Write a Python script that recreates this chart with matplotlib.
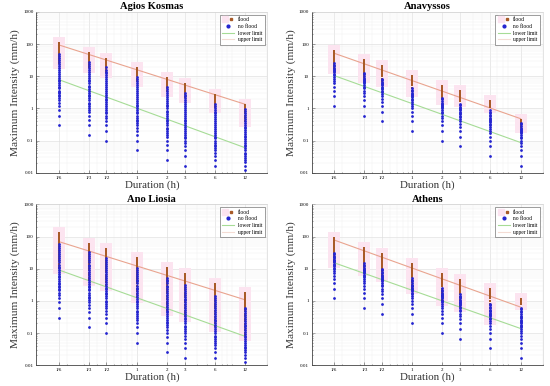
import matplotlib
matplotlib.use("Agg")
import matplotlib.pyplot as plt
from matplotlib.lines import Line2D
from matplotlib.legend_handler import HandlerTuple

plt.rcParams.update({"font.family": "Liberation Serif", "axes.linewidth": 0.6})

# ---- data ----
DUR = [1/6, 1/3, 1/2, 1, 2, 3, 6, 12]
DUR_LABELS = ["1/6", "1/3", "1/2", "1", "2", "3", "6", "12"]
Y_TICKS = [0.01, 0.1, 1, 10, 100, 1000]
Y_LABELS = ["0.01", "0.1", "1", "10", "100", "1000"]
TITLES = ["Agios Kosmas", "Anavyssos", "Ano Liosia", "Athens"]

# Agios Kosmas
AK_FLOOD = [
    [105, 100, 95, 90, 84, 78, 72, 66, 60, 55, 50, 45, 40, 35, 30, 26],
    [52, 49, 46, 43, 40, 36, 32, 28, 25, 22, 19],
    [34, 32, 30, 28, 26, 24, 21, 18, 16, 14],
    [17.5, 16.5, 15.5, 14.5, 13, 11.5, 10, 8.5, 7],
    [8.9, 8.4, 7.9, 7.3, 6.6, 5.8, 5.0, 4.2, 3.5],
    [5.8, 5.5, 5.2, 4.8, 4.3, 3.8, 3.3, 2.8, 2.3],
    [2.6, 2.45, 2.3, 2.1, 1.9, 1.7, 1.5, 1.3, 1.1],
    [1.3, 1.2, 1.1, 1.0, 0.9, 0.8, 0.7, 0.6, 0.5, 0.4],
]
AK_NOFLOOD = [
    [0.3, 0.6, 0.9, 1.2, 1.5, 1.8, 2.1, 2.4, 2.7, 3.0, 3.3, 3.6, 4.2, 4.8, 5.4, 6.0, 6.9, 7.8, 9.0, 10.2, 11.7, 13.5, 15.6, 18, 21, 24, 28, 32, 37, 43, 50],
    [0.15, 0.3, 0.45, 0.6, 0.75, 0.9, 1.05, 1.2, 1.35, 1.5, 1.8, 2.1, 2.4, 2.7, 3.0, 3.45, 3.9, 4.5, 5.1, 6.0, 6.9, 7.8, 9.0, 10.5, 12, 13.5, 15.6, 18, 21, 24, 28],
    [0.1, 0.2, 0.3, 0.4, 0.5, 0.6, 0.7, 0.8, 0.9, 1.0, 1.2, 1.4, 1.6, 1.8, 2.0, 2.3, 2.6, 3.0, 3.4, 3.9, 4.5, 5.2, 6.0, 7.0, 8.0, 9.2, 10.6, 12.2, 14, 16, 19],
    [0.05, 0.1, 0.15, 0.2, 0.25, 0.3, 0.35, 0.4, 0.45, 0.5, 0.6, 0.7, 0.8, 0.9, 1.0, 1.15, 1.3, 1.5, 1.7, 2.0, 2.3, 2.6, 3.0, 3.5, 4.0, 4.6, 5.3, 6.1, 7.0, 8.0, 9.2],
    [0.025, 0.05, 0.075, 0.1, 0.125, 0.15, 0.175, 0.2, 0.225, 0.25, 0.3, 0.35, 0.4, 0.45, 0.5, 0.575, 0.65, 0.75, 0.85, 1.0, 1.15, 1.3, 1.5, 1.75, 2.0, 2.3, 2.65, 3.0, 3.5, 4.0, 4.6],
    [0.0167, 0.033, 0.05, 0.067, 0.083, 0.1, 0.117, 0.133, 0.15, 0.167, 0.2, 0.233, 0.267, 0.3, 0.35, 0.4, 0.45, 0.52, 0.6, 0.68, 0.78, 0.9, 1.03, 1.18, 1.35, 1.55, 1.78, 2.05, 2.35, 2.7, 3.1],
    [0.0167, 0.025, 0.033, 0.042, 0.05, 0.058, 0.067, 0.075, 0.083, 0.1, 0.117, 0.133, 0.15, 0.175, 0.2, 0.23, 0.26, 0.3, 0.35, 0.4, 0.46, 0.53, 0.61, 0.7, 0.8, 0.92, 1.05, 1.2, 1.4],
    [0.0125, 0.0167, 0.021, 0.025, 0.029, 0.033, 0.0375, 0.042, 0.05, 0.058, 0.067, 0.075, 0.083, 0.096, 0.11, 0.125, 0.14, 0.16, 0.18, 0.21, 0.24, 0.27, 0.31, 0.36, 0.41, 0.47, 0.54, 0.62, 0.71, 0.82, 0.95],
]
AK_UPPER = [95, 1.35]
AK_LOWER = [7.9, 0.06]

# Anavyssos
AN_FLOOD = [
    [63, 60, 57, 54, 51, 48, 45, 42, 39, 36, 33, 30, 27, 24, 21, 18],
    [31, 29.5, 28, 26.5, 25, 23, 21, 19, 17, 15, 13, 11, 9.5],
    [21, 20, 19, 18, 17, 16, 14.5, 13, 11.5, 10, 8.5, 7],
    [10.5, 10, 9.4, 8.8, 8.2, 7.5, 6.8, 6.0, 5.2, 4.4, 3.6],
    [5.1, 4.8, 4.5, 4.2, 3.9, 3.5, 3.1, 2.7, 2.3, 1.9],
    [3.6, 3.45, 3.3, 3.1, 2.9, 2.6, 2.3, 2.0, 1.7],
    [1.75, 1.65, 1.55, 1.45, 1.3, 1.1],
    [0.45, 0.42, 0.39, 0.36, 0.33, 0.3, 0.27],
]
AN_NOFLOOD = [
    [1.2, 2.4, 3.6, 4.8, 6.0, 7.2, 8.4, 9.6, 10.8, 12, 13.2, 14.4, 15.6, 16.8, 18, 20.4, 22.8, 25.2],
    [0.6, 1.2, 1.8, 2.4, 3.0, 3.6, 4.2, 4.8, 5.4, 6.0, 6.6, 7.2, 7.8, 8.4, 9.0, 10.2, 11.4, 12.6],
    [0.4, 0.8, 1.2, 1.6, 2.0, 2.4, 2.8, 3.2, 3.6, 4.0, 4.4, 4.8, 5.2, 5.6, 6.0, 6.8, 7.6, 8.4],
    [0.2, 0.4, 0.6, 0.8, 1.0, 1.2, 1.4, 1.6, 1.8, 2.0, 2.2, 2.4, 2.6, 2.8, 3.0, 3.4, 3.8, 4.2],
    [0.1, 0.2, 0.3, 0.4, 0.5, 0.6, 0.7, 0.8, 0.9, 1.0, 1.1, 1.2, 1.3, 1.4, 1.5, 1.7, 1.9, 2.1],
    [0.067, 0.133, 0.2, 0.267, 0.333, 0.4, 0.467, 0.533, 0.6, 0.667, 0.733, 0.8, 0.867, 0.933, 1.0, 1.133, 1.267, 1.4],
    [0.033, 0.067, 0.1, 0.133, 0.167, 0.2, 0.233, 0.267, 0.3, 0.333, 0.367, 0.4, 0.433, 0.467, 0.5, 0.567, 0.633, 0.7, 0.8, 0.9],
    [0.0167, 0.033, 0.05, 0.067, 0.083, 0.1, 0.117, 0.133, 0.15, 0.167, 0.183, 0.2, 0.217, 0.233, 0.25, 0.283, 0.317, 0.35],
]
AN_UPPER = [52, 0.48]
AN_LOWER = [10.5, 0.087]

# Ano Liosia
AL_FLOOD = [
    [125, 116, 108, 100, 93, 86, 80, 74, 68, 62, 57, 52, 47, 42, 38, 34, 30, 26, 23, 20, 17, 14.5, 12.5, 10.5],
    [60, 56, 52, 48, 44, 41, 38, 35, 32, 29, 26, 23, 20.5, 18, 16, 14, 12, 10.5, 9, 7.5, 6.2, 5.2, 4.4],
    [40, 37, 34, 31, 28.5, 26, 23.5, 21, 19, 17, 15, 13.5, 12, 10.5, 9, 7.8, 6.6, 5.6, 4.7, 3.9, 3.2],
    [21, 19.5, 18, 16.5, 15, 13.5, 12, 10.8, 9.6, 8.5, 7.5, 6.5, 5.6, 4.8, 4.1, 3.5, 2.9, 2.4, 2.0, 1.65, 1.35],
    [10.4, 9.6, 8.8, 8.0, 7.3, 6.6, 6.0, 5.4, 4.8, 4.2, 3.7, 3.2, 2.8, 2.4, 2.0, 1.7, 1.4, 1.15, 0.95, 0.78, 0.64, 0.52],
    [6.8, 6.3, 5.8, 5.3, 4.8, 4.4, 4.0, 3.6, 3.2, 2.8, 2.45, 2.1, 1.8, 1.55, 1.3, 1.1, 0.92, 0.76, 0.62, 0.5, 0.41, 0.34],
    [3.4, 3.1, 2.85, 2.6, 2.35, 2.1, 1.9, 1.7, 1.5, 1.3, 1.12, 0.96, 0.82, 0.7, 0.58, 0.48, 0.39, 0.31, 0.25, 0.2, 0.16],
    [1.7, 1.55, 1.4, 1.27, 1.15, 1.03, 0.92, 0.82, 0.72, 0.63, 0.55, 0.47, 0.4, 0.34, 0.28, 0.23, 0.19, 0.15, 0.12, 0.1, 0.085],
]
AL_NOFLOOD = [
    [0.3, 0.6, 0.9, 1.2, 1.5, 1.8, 2.1, 2.4, 2.7, 3.0, 3.3, 3.6, 4.2, 4.8, 5.4, 6.0, 6.9, 7.8, 9.0, 10.2, 11.7, 13.5, 15.6, 18, 21, 24, 28, 32, 37, 43, 50, 58],
    [0.15, 0.3, 0.45, 0.6, 0.75, 0.9, 1.05, 1.2, 1.35, 1.5, 1.8, 2.1, 2.4, 2.7, 3.0, 3.45, 3.9, 4.5, 5.1, 6.0, 6.9, 7.8, 9.0, 10.5, 12, 13.5, 15.6, 18, 21, 24, 28, 33],
    [0.1, 0.2, 0.3, 0.4, 0.5, 0.6, 0.7, 0.8, 0.9, 1.0, 1.2, 1.4, 1.6, 1.8, 2.0, 2.3, 2.6, 3.0, 3.4, 3.9, 4.5, 5.2, 6.0, 7.0, 8.0, 9.2, 10.6, 12.2, 14, 16, 19, 22],
    [0.05, 0.1, 0.15, 0.2, 0.25, 0.3, 0.35, 0.4, 0.45, 0.5, 0.6, 0.7, 0.8, 0.9, 1.0, 1.15, 1.3, 1.5, 1.7, 2.0, 2.3, 2.6, 3.0, 3.5, 4.0, 4.6, 5.3, 6.1, 7.0, 8.0, 9.2, 10.5],
    [0.025, 0.05, 0.075, 0.1, 0.125, 0.15, 0.175, 0.2, 0.225, 0.25, 0.3, 0.35, 0.4, 0.45, 0.5, 0.575, 0.65, 0.75, 0.85, 1.0, 1.15, 1.3, 1.5, 1.75, 2.0, 2.3, 2.65, 3.0, 3.5, 4.0, 4.6, 5.3],
    [0.0167, 0.033, 0.05, 0.067, 0.083, 0.1, 0.117, 0.133, 0.15, 0.167, 0.2, 0.233, 0.267, 0.3, 0.35, 0.4, 0.45, 0.52, 0.6, 0.68, 0.78, 0.9, 1.03, 1.18, 1.35, 1.55, 1.78, 2.05, 2.35, 2.7, 3.1],
    [0.0167, 0.025, 0.033, 0.042, 0.05, 0.058, 0.067, 0.075, 0.083, 0.1, 0.117, 0.133, 0.15, 0.175, 0.2, 0.23, 0.26, 0.3, 0.35, 0.4, 0.46, 0.53, 0.61, 0.7, 0.8, 0.92, 1.05, 1.2, 1.4],
    [0.0125, 0.0167, 0.021, 0.025, 0.029, 0.033, 0.0375, 0.042, 0.05, 0.058, 0.067, 0.075, 0.083, 0.096, 0.11, 0.125, 0.14, 0.16, 0.18, 0.21, 0.24, 0.27, 0.31, 0.36, 0.41, 0.47, 0.54, 0.62],
]
AL_UPPER = [70, 1.08]
AL_LOWER = [9.2, 0.079]

# Athens
AT_FLOOD = [
    [87, 83, 79, 75, 71, 67, 63, 59, 55, 51, 47, 43, 39, 35, 31, 27, 23, 19, 16],
    [43, 41, 39, 37, 35, 33, 31, 29, 27, 25, 23, 21, 19, 17, 15, 13, 11, 9],
    [28, 27, 26, 25, 23.5, 22, 20.5, 19, 17.5, 16, 14.5, 13, 11.5, 10, 8.5, 7, 6],
    [14, 13.3, 12.6, 11.9, 11.2, 10.5, 9.8, 9.1, 8.4, 7.7, 7.0, 6.2, 5.4, 4.6, 3.8, 3.1, 2.5],
    [7.0, 6.7, 6.4, 6.1, 5.8, 5.5, 5.2, 4.8, 4.4, 4.0, 3.6, 3.2, 2.8, 2.4, 2.0, 1.7, 1.4, 1.1],
    [4.6, 4.4, 4.2, 4.0, 3.8, 3.6, 3.4, 3.1, 2.8, 2.5, 2.2, 1.9, 1.6, 1.3, 1.05, 0.85, 0.7],
    [2.4, 2.3, 2.2, 2.1, 2.0, 1.85, 1.7, 1.55, 1.4, 1.2, 1.0, 0.8, 0.62, 0.48, 0.36, 0.27],
    [1.15, 1.1, 1.05, 1.0, 0.95, 0.9, 0.85, 0.8],
]
AT_NOFLOOD = [
    [1.2, 2.4, 3.6, 4.8, 6.0, 7.2, 8.4, 9.6, 10.8, 12, 13.2, 14.4, 15.6, 16.8, 18, 19.2, 21, 23, 25, 28, 31],
    [0.6, 1.2, 1.8, 2.4, 3.0, 3.6, 4.2, 4.8, 5.4, 6.0, 6.6, 7.2, 7.8, 8.4, 9.0, 9.6, 10.8, 12, 13.2, 15],
    [0.4, 0.8, 1.2, 1.6, 2.0, 2.4, 2.8, 3.2, 3.6, 4.0, 4.4, 4.8, 5.2, 5.6, 6.0, 6.4, 7.2, 8.0, 8.8, 10],
    [0.2, 0.4, 0.6, 0.8, 1.0, 1.2, 1.4, 1.6, 1.8, 2.0, 2.2, 2.4, 2.6, 2.8, 3.0, 3.2, 3.6, 4.0, 4.4, 5.0],
    [0.1, 0.2, 0.3, 0.4, 0.5, 0.6, 0.7, 0.8, 0.9, 1.0, 1.1, 1.2, 1.3, 1.4, 1.5, 1.6, 1.8, 2.0, 2.2, 2.5],
    [0.067, 0.133, 0.2, 0.267, 0.333, 0.4, 0.467, 0.533, 0.6, 0.667, 0.733, 0.8, 0.867, 0.933, 1.0, 1.067, 1.2, 1.333, 1.467, 1.6],
    [0.033, 0.067, 0.1, 0.133, 0.167, 0.2, 0.233, 0.267, 0.3, 0.333, 0.367, 0.4, 0.433, 0.467, 0.5, 0.533, 0.6, 0.667, 0.733, 0.8],
    [0.0167, 0.033, 0.05, 0.067, 0.083, 0.1, 0.117, 0.133, 0.15, 0.167, 0.183, 0.2, 0.217, 0.233, 0.25, 0.283, 0.317, 0.35, 0.4, 0.45, 0.5, 0.55, 0.6],
]
AT_UPPER = [78, 0.64]
AT_LOWER = [15.3, 0.138]

# ---- style ----
FLOOD_C = "#a85a28"
NOFLOOD_C = "#2424d0"
PINK = "#fce4f0"
UP_C = "#e9a48f"
LO_C = "#a6dc96"
MAJ_G = "#d9d9d9"
MIN_G = "#eeeeee"

fig, axes = plt.subplots(2, 2, figsize=(5.5, 3.86), dpi=100)
fig.subplots_adjust(left=0.066, right=0.987, top=0.969, bottom=0.054, wspace=0.193, hspace=0.197)

panels = [
    (AK_FLOOD, AK_NOFLOOD, AK_UPPER, AK_LOWER),
    (AN_FLOOD, AN_NOFLOOD, AN_UPPER, AN_LOWER),
    (AL_FLOOD, AL_NOFLOOD, AL_UPPER, AL_LOWER),
    (AT_FLOOD, AT_NOFLOOD, AT_UPPER, AT_LOWER),
]

for ax, title, (fl, nf, up, lo) in zip(axes.flat, TITLES, panels):
    ax.set_xscale("log"); ax.set_yscale("log")
    ax.set_axisbelow(True)
    for d, vals in zip(DUR, fl):
        ax.scatter([d]*len(vals), vals, s=70, marker="s", color=PINK, lw=0, zorder=1.5)
    for d, vals in zip(DUR, fl):
        ax.scatter([d]*len(vals), vals, s=3, marker="s", color=FLOOD_C, lw=0, zorder=3)
    for d, vals in zip(DUR, nf):
        ax.scatter([d]*len(vals), vals, s=4, marker="o", color=NOFLOOD_C, lw=0, zorder=4)
    ax.plot([DUR[0], DUR[-1]], up, color=UP_C, lw=0.8, zorder=2.5)
    ax.plot([DUR[0], DUR[-1]], lo, color=LO_C, lw=0.8, zorder=2.5)

    ax.set_xlim(0.1, 20); ax.set_ylim(0.01, 1000)
    ax.set_xticks(DUR); ax.set_xticklabels(DUR_LABELS)
    ax.set_yticks(Y_TICKS); ax.set_yticklabels(Y_LABELS)
    ax.minorticks_on()
    ax.tick_params(which="both", direction="in", width=0.4, labelsize=3.6, pad=2, color="#555555")
    ax.tick_params(which="major", length=2)
    ax.tick_params(which="minor", length=1)
    ax.grid(which="major", color=MAJ_G, lw=0.4)
    ax.grid(which="minor", color=MIN_G, lw=0.3)
    for s in ("left", "bottom"):
        ax.spines[s].set_color("#444444"); ax.spines[s].set_linewidth(0.6)
    for s in ("top", "right"):
        ax.spines[s].set_color("#cfcfcf"); ax.spines[s].set_linewidth(0.4)

    ax.set_title(title, fontsize=7.6, fontweight="bold", pad=2)
    ax.set_xlabel("Duration (h)", fontsize=7.8, labelpad=0.5, color="#333333")
    ax.set_ylabel("Maximum Intensity (mm/h)", fontsize=8.2, labelpad=2, color="#333333")

    h_flood = (Line2D([], [], marker="s", ls="", ms=4.5, mfc=PINK, mec=PINK),
               Line2D([], [], marker="s", ls="", ms=2, mfc=FLOOD_C, mec=FLOOD_C))
    h_no = Line2D([], [], marker="o", ls="", ms=2, mfc=NOFLOOD_C, mec=NOFLOOD_C)
    h_lo = Line2D([], [], color=LO_C, lw=0.8)
    h_up = Line2D([], [], color="#f4dcd4", lw=0.8)
    leg = ax.legend([h_flood, h_no, h_lo, h_up], ["flood", "no flood", "lower limit", "upper limit"],
                    handler_map={tuple: HandlerTuple(ndivide=None, pad=0)},
                    loc="upper right", fontsize=4, handlelength=2.2, handletextpad=0.6,
                    labelspacing=0.3, borderpad=0.45, borderaxespad=0.5, fancybox=False,
                    framealpha=1, edgecolor="#555555")
    leg.get_frame().set_linewidth(0.4)

fig.savefig("out.png", dpi=100)
